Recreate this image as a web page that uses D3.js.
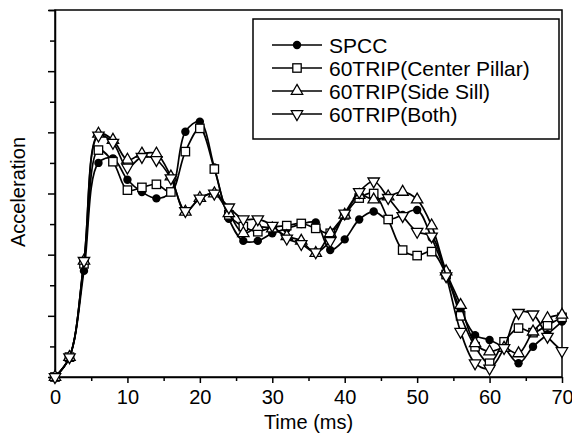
<!DOCTYPE html>
<html>
<head>
<meta charset="utf-8">
<script src="https://cdn.jsdelivr.net/npm/d3@7"></script>
<style>
body { margin: 0; background: #fff; }
text { font-family: "Liberation Sans", Arial, Helvetica, sans-serif; fill: #000; }
</style>
</head>
<body>
<div id="chart"></div>
<script>
// time in ms, one sample every 2 ms
var time = [0, 2, 4, 6, 8, 10, 12, 14, 16, 18, 20, 22, 24, 26, 28, 30, 32, 34,
    36, 38, 40, 42, 44, 46, 48, 50, 52, 54, 56, 58, 60, 62, 64, 66, 68, 70];

var seriesNames = ["SPCC", "60TRIP(Center Pillar)", "60TRIP(Side Sill)", "60TRIP(Both)"];

var spcc = [0, 0.65, 3.47, 7.0, 7.15, 6.45, 6.05, 5.84, 6.05, 8.02, 8.35, 6.85, 5.17, 4.45, 4.45, 4.7, 4.85, 5.0,
    5.05, 4.15, 4.5, 5.15, 5.41, 5.15, 5.3, 5.46, 4.55, 3.4, 2.2, 1.37, 1.21, 0.95, 0.45, 0.99, 1.4, 1.81];
var centerPillar = [0, 0.65, 3.7, 7.42, 7.04, 6.11, 6.2, 6.3, 6.05, 7.37, 8.13, 6.8, 5.3, 4.92, 4.75, 4.9, 4.95, 5.02,
    4.86, 4.7, 5.3, 5.85, 6.0, 5.15, 4.15, 3.97, 4.1, 3.35, 2.0, 0.99, 0.45, 1.15, 1.6, 1.45, 1.7, 1.95];
var sideSill = [0, 0.65, 3.8, 7.95, 7.75, 7.1, 7.3, 7.3, 6.55, 5.4, 5.85, 6.0, 5.35, 4.7, 4.9, 4.85, 4.6, 4.45,
    4.05, 4.7, 5.3, 5.95, 5.8, 5.9, 6.05, 5.8, 4.95, 3.45, 2.35, 1.1, 0.83, 0.95, 0.77, 1.48, 1.92, 2.03];
var both = [0, 0.65, 3.8, 7.9, 7.66, 6.85, 7.2, 7.1, 6.5, 5.43, 5.84, 6.0, 5.55, 5.16, 5.16, 4.95, 4.53, 4.35,
    4.08, 4.45, 5.35, 6.05, 6.4, 5.86, 5.27, 4.75, 4.6, 3.3, 1.48, 0.45, 0.28, 0.95, 2.1, 2.05, 1.32, 0.85];

var xMajorTicks = [0, 10, 20, 30, 40, 50, 60, 70];
var xMinorTicks = [5, 15, 25, 35, 45, 55, 65];
var yTicks = [0, 1, 2, 3, 4, 5, 6, 7, 8, 9, 10, 11, 12];

var margininfo = {top: 10, right: 10, bottom: 63, left: 55};
var widthinfo = 572 - margininfo.left - margininfo.right;
var heightinfo = 440 - margininfo.top - margininfo.bottom;

var xinfo = d3.scaleLinear().domain([0, 70]).range([0, widthinfo]);
var yinfo = d3.scaleLinear().domain([0, 12]).range([heightinfo, 0]);

var svg = d3.select("#chart").append("svg")
    .attr("width", 572)
    .attr("height", 440)
    .append("g")
    .attr("transform", "translate(" + margininfo.left + "," + margininfo.top + ")");

var series = [
    {name: seriesNames[0], values: spcc, marker: "circle"},
    {name: seriesNames[1], values: centerPillar, marker: "square"},
    {name: seriesNames[2], values: sideSill, marker: "up"},
    {name: seriesNames[3], values: both, marker: "down"}
];

// marker drawing, shared by plot and legend
function drawMarker(g, type) {
    if (type === "circle") {
        g.append("circle").attr("r", 4.2).attr("fill", "#000");
    } else if (type === "square") {
        g.append("rect").attr("x", -4.2).attr("y", -4.2).attr("width", 8.4).attr("height", 8.4)
            .attr("fill", "#fff").attr("stroke", "#000").attr("stroke-width", 1.3);
    } else {
        g.append("path")
            .attr("d", d3.symbol().type(d3.symbolTriangle).size(56)())
            .attr("transform", type === "down" ? "rotate(180)" : null)
            .attr("fill", "#fff").attr("stroke", "#000").attr("stroke-width", 1.3);
    }
}

// axes
svg.append("g")
    .attr("transform", "translate(0," + heightinfo + ")")
    .call(d3.axisBottom(xinfo).tickValues(xMinorTicks).tickSize(4).tickSizeOuter(0).tickFormat(""))
    .call(function(g) { g.select(".domain").remove(); });

var xAxisG = svg.append("g")
    .attr("transform", "translate(0," + heightinfo + ")")
    .call(d3.axisBottom(xinfo).tickValues(xMajorTicks).tickSize(6).tickSizeOuter(0).tickPadding(7));
xAxisG.selectAll("text").style("font-size", "20px");

var yAxisG = svg.append("g")
    .call(d3.axisLeft(yinfo).tickValues(yTicks).tickSizeOuter(0).tickFormat("")
        .tickSize(6));
yAxisG.selectAll(".tick line").attr("x2", function(d) { return d % 2 === 0 ? -7 : -5; });

svg.selectAll(".domain, .tick line").attr("stroke", "#000").attr("stroke-width", 1.5);

// frame
svg.append("rect")
    .attr("width", widthinfo)
    .attr("height", heightinfo)
    .attr("fill", "none")
    .attr("stroke", "#000")
    .attr("stroke-width", 1.5);

svg.append("text")
    .attr("x", widthinfo / 2)
    .attr("y", heightinfo + 52)
    .attr("text-anchor", "middle")
    .style("font-size", "20px")
    .text("Time (ms)");

svg.append("text")
    .attr("transform", "translate(" + (18 - margininfo.left) + "," + 182 + ") rotate(-90)")
    .attr("text-anchor", "middle")
    .attr("dy", "0.35em")
    .style("font-size", "20px")
    .text("Acceleration");

var line = d3.line()
    .x(function(d) { return xinfo(d.t); })
    .y(function(d) { return yinfo(d.v); })
    .curve(d3.curveCatmullRom.alpha(0.5));

var city = svg.selectAll(".series")
    .data(series)
    .enter().append("g")
    .attr("class", "series");

city.append("path")
    .attr("d", function(d) {
        return line(d.values.map(function(v, i) { return {t: time[i], v: v}; }));
    })
    .attr("fill", "none")
    .attr("stroke", "#000")
    .attr("stroke-width", 1.7);

city.each(function(s) {
    var g = d3.select(this);
    s.values.forEach(function(v, i) {
        var m = g.append("g")
            .attr("transform", "translate(" + xinfo(time[i]) + "," + yinfo(v) + ")");
        drawMarker(m, s.marker);
    });
});

// legend
var legend = svg.append("g")
    .attr("transform", "translate(" + (253 - margininfo.left) + "," + (19 - margininfo.top) + ")");

legend.append("rect")
    .attr("width", 306)
    .attr("height", 120)
    .attr("fill", "#fff")
    .attr("stroke", "#000")
    .attr("stroke-width", 1.5);

var item = legend.selectAll(".legend")
    .data(series)
    .enter().append("g")
    .attr("class", "legend")
    .attr("transform", function(d, i) { return "translate(0," + (26 + i * 23) + ")"; });

item.append("line")
    .attr("x1", 19).attr("x2", 69)
    .attr("stroke", "#000").attr("stroke-width", 1.7);

item.each(function(d) {
    var m = d3.select(this).append("g").attr("transform", "translate(44,0)");
    drawMarker(m, d.marker);
});

item.append("text")
    .attr("x", 76)
    .attr("dy", "0.36em")
    .style("font-size", "21px")
    .text(function(d) { return d.name; });
</script>
</body>
</html>
